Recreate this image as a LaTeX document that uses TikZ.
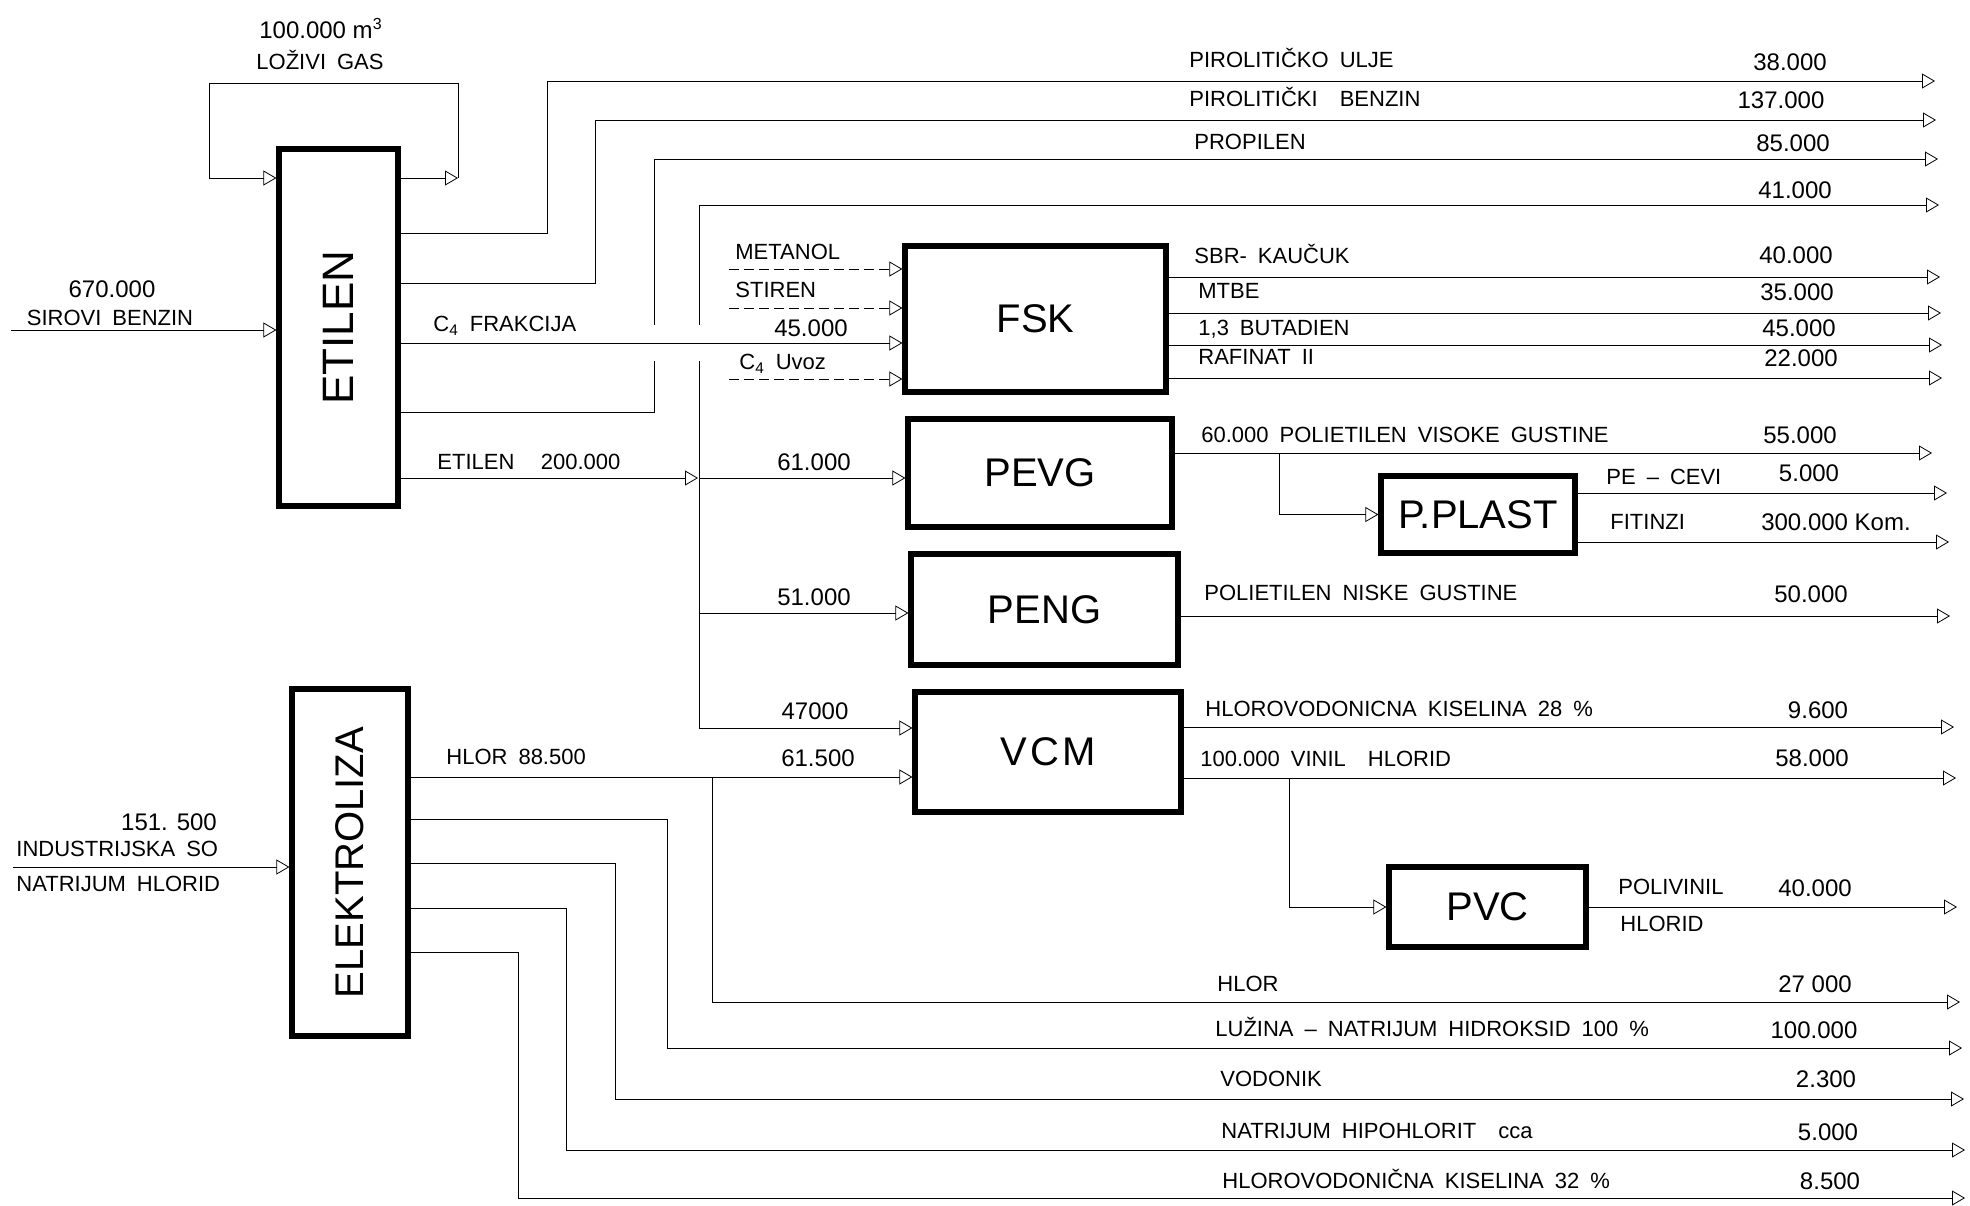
\documentclass[tikz,border=0pt]{standalone}
\usepackage{fontspec}
\setmainfont{Liberation Sans}
\usepackage{graphicx}
\usetikzlibrary{arrows.meta,backgrounds}
\newcommand\labfont{\fontsize{11}{13}\selectfont\spaceskip=.5em\relax}
\newcommand\numfont{\fontsize{12}{14}\selectfont}
\newcommand\boxfont{\fontsize{20}{24}\selectfont}
\begin{document}
\begin{tikzpicture}[x=0.5pt,y=-0.5pt,line width=1.9pt,
  >={Triangle[open,length=6.5pt,width=7.5pt]},
  box/.style={draw,line width=2.6pt,fill=white,inner sep=0pt,font=\boxfont},
  lab/.style={inner sep=0pt,anchor=west,font=\labfont,text height=7.9pt,text depth=0pt},
  labc/.style={lab,anchor=center},
  num/.style={inner sep=0pt,font=\numfont,text height=8.6pt,text depth=0pt},
  dsh/.style={->,dash pattern=on 5pt off 2.5pt}]
\useasboundingbox (0,0) rectangle (1970,1205);

% ---------- boxes ----------
\node[box,minimum width=59.5pt,minimum height=178.5pt] (etilen) at (338.5,327.5) {\rotatebox{90}{\fontsize{22}{26}\selectfont ETILEN}};
\node[box,minimum width=58pt,minimum height=173.5pt] (elektro) at (350,862.5) {\rotatebox{90}{ELEKTROLIZA}};
\node[box,minimum width=130.5pt,minimum height=73pt] (fsk) at (1035.5,319) {FSK};
\node[box,minimum width=132pt,minimum height=54pt] (pevg) at (1040,473) {PEVG};
\node[box,minimum width=133.5pt,minimum height=55.5pt] (peng) at (1044.5,609.5) {PENG};
\node[box,minimum width=133pt,minimum height=60pt] (vcm) at (1048,752) {V\kern1.5pt C\kern1.5pt M};
\node[box,minimum width=97pt,minimum height=38.5pt] (pplast) at (1478,514.5) {P.PLAST};
\node[box,minimum width=98.5pt,minimum height=40pt] (pvc) at (1487.5,907) {PVC};

% ---------- free ends ----------
\coordinate (inSB) at (11,330);
\coordinate (inNH) at (13,867);
\coordinate (loopR) at (458,178);
\coordinate (loopTR) at (458,83);
\coordinate (loopTL) at (209,83);
\coordinate (loopL) at (209,178);
\coordinate (e1) at (1935,81);
\coordinate (e2) at (1936,120);
\coordinate (e3) at (1938,159);
\coordinate (e4) at (1939,205);
\coordinate (f1) at (1940,277);
\coordinate (f2) at (1941,313);
\coordinate (f3) at (1942,345);
\coordinate (f4) at (1942,378);
\coordinate (g1) at (1932,453);
\coordinate (p1) at (1947,493);
\coordinate (p2) at (1949,542);
\coordinate (n1) at (1950,616);
\coordinate (v1) at (1954,727);
\coordinate (v2) at (1956,778);
\coordinate (pv1) at (1957,907);
\coordinate (h1) at (1960,1002);
\coordinate (h2) at (1962,1048);
\coordinate (h3) at (1964,1099);
\coordinate (h4) at (1965,1150);
\coordinate (h5) at (1965,1198);
\coordinate (mt) at (729,269);
\coordinate (st) at (729,308);
\coordinate (uv) at (729,379);
\coordinate (bus) at (699,478);

% ---------- connectors ----------
\begin{pgfonlayer}{background}
\fill[white] (0,0) rectangle (1970,1205);
\draw[->] (inSB) -- (etilen.west |- inSB);
\draw[->] (inNH) -- (elektro.west |- inNH);
\draw[->] (etilen.east |- loopR) -- (loopR);
\draw[->] (loopR) -- (loopTR) -- (loopTL) -- (loopL) -- (etilen.west |- loopL);
\draw[->] (etilen.east |- 0,233) -- (547,233) |- (e1);
\draw[->] (etilen.east |- 0,283) -- (595,283) |- (e2);
\draw[->] (etilen.east |- 0,412) -- (654,412) |- (e3);
\draw[<->] (vcm.west |- 0,728) -- (699,728) |- (e4);
\draw[->] (etilen.east |- bus) -- ([xshift=-0.5pt]bus);
\draw[->] (bus) -- (pevg.west |- bus);
\draw[->] (699,613) -- (peng.west |- 0,613);
\draw[->,preaction={draw=white,line width=18pt,arrows=-}] (etilen.east |- 0,343) -- (fsk.west |- 0,343);
\draw[dsh] (mt) -- (fsk.west |- mt);
\draw[dsh] (st) -- (fsk.west |- st);
\draw[dsh] (uv) -- (fsk.west |- uv);
\draw[->] (fsk.east |- f1) -- (f1);
\draw[->] (fsk.east |- f2) -- (f2);
\draw[->] (fsk.east |- f3) -- (f3);
\draw[->] (fsk.east |- f4) -- (f4);
\draw[->] (pevg.east |- g1) -- (g1);
\draw[->] (1279,453) |- (pplast.west);
\draw[->] (pplast.east |- p1) -- (p1);
\draw[->] (pplast.east |- p2) -- (p2);
\draw[->] (peng.east |- n1) -- (n1);
\draw[->] (vcm.east |- v1) -- (v1);
\draw[->] (vcm.east |- v2) -- (v2);
\draw[->] (1289,778) |- (pvc.west);
\draw[->] (pvc.east) -- (pv1);
\draw[->] (elektro.east |- 0,777) -- (vcm.west |- 0,777);
\draw[->] (712,777) |- (h1);
\draw[->] (elektro.east |- 0,819) -- (667,819) |- (h2);
\draw[->] (elektro.east |- 0,863) -- (615,863) |- (h3);
\draw[->] (elektro.east |- 0,908) -- (566,908) |- (h4);
\draw[->] (elektro.east |- 0,952) -- (518,952) |- (h5);
\end{pgfonlayer}

% ---------- left / middle labels ----------
\node[num] (t100) at (321,30) {100.000 m\textsuperscript{3}};
\node[labc] (tLG) at (320,62) {LOŽIVI GAS};
\node[num] (t670) at (112,289) {670.000};
\node[labc] (tSB) at (110,318) {SIROVI BENZIN};
\node[lab] (tC4) at (433,324) {C\textsubscript{4} FRAKCIJA};
\node[lab] (tMet) at (735,252) {METANOL};
\node[lab] (tSti) at (735,290) {STIREN};
\node[num] (t45) at (811,328) {45.000};
\node[lab] (tUv) at (739,362) {C\textsubscript{4} Uvoz};
\node[lab] (tEt) at (437,462) {ETILEN\hspace{1.2em}200.000};
\node[num] (t61) at (814,462) {61.000};
\node[num] (t51) at (814,597) {51.000};
\node[num] (t47) at (815,711) {47000};
\node[num] (t615) at (818,758) {61.500};
\node[lab] (tHl) at (446,757) {HLOR 88.500};
\node[num] (t151) at (169,822) {151. 500};
\node[lab] (tIS) at (16,849) {INDUSTRIJSKA SO};
\node[lab] (tNH) at (16,884) {NATRIJUM HLORID};

% ---------- right labels ----------
\node[lab] (r1) at (1189,60) {PIROLITIČKO ULJE};
\node[lab] (r2) at (1189,99) {PIROLITIČKI\hspace{1em}BENZIN};
\node[lab] (r3) at (1194,142) {PROPILEN};
\node[lab] (r4) at (1194,256) {SBR- KAUČUK};
\node[lab] (r5) at (1198,291) {MTBE};
\node[lab] (r6) at (1198,328) {1,3 BUTADIEN};
\node[lab] (r7) at (1198,357) {RAFINAT II};
\node[lab] (r8) at (1201,435) {60.000 POLIETILEN VISOKE GUSTINE};
\node[lab] (r9) at (1606,477) {PE – CEVI};
\node[lab] (r10) at (1610,522) {FITINZI};
\node[lab] (r11) at (1204,593) {POLIETILEN NISKE GUSTINE};
\node[lab] (r12) at (1205,709) {HLOROVODONICNA KISELINA 28 \%};
\node[lab] (r13) at (1200,759) {100.000 VINIL\hspace{1em}HLORID};
\node[lab] (r14) at (1618,887) {POLIVINIL};
\node[lab] (r15) at (1620,924) {HLORID};
\node[lab] (r16) at (1217,984) {HLOR};
\node[lab] (r17) at (1215,1029) {LUŽINA – NATRIJUM HIDROKSID 100 \%};
\node[lab] (r18) at (1220,1079) {VODONIK};
\node[lab] (r19) at (1221,1131) {NATRIJUM HIPOHLORIT\hspace{1em}cca};
\node[lab] (r20) at (1222,1181) {HLOROVODONIČNA KISELINA 32 \%};

% ---------- right numbers ----------
\node[num] (q1) at (1790,62) {38.000};
\node[num] (q2) at (1781,100) {137.000};
\node[num] (q3) at (1793,143) {85.000};
\node[num] (q4) at (1795,190) {41.000};
\node[num] (q5) at (1796,255) {40.000};
\node[num] (q6) at (1797,292) {35.000};
\node[num] (q7) at (1799,328) {45.000};
\node[num] (q8) at (1801,358) {22.000};
\node[num] (q9) at (1800,435) {55.000};
\node[num] (q10) at (1809,473) {5.000};
\node[num] (q11) at (1836,522) {300.000 Kom.};
\node[num] (q12) at (1811,594) {50.000};
\node[num] (q13) at (1818,710) {9.600};
\node[num] (q14) at (1812,758) {58.000};
\node[num] (q15) at (1815,888) {40.000};
\node[num] (q16) at (1815,984) {27 000};
\node[num] (q17) at (1814,1030) {100.000};
\node[num] (q18) at (1826,1079) {2.300};
\node[num] (q19) at (1828,1132) {5.000};
\node[num] (q20) at (1830,1181) {8.500};
\end{tikzpicture}
\end{document}
